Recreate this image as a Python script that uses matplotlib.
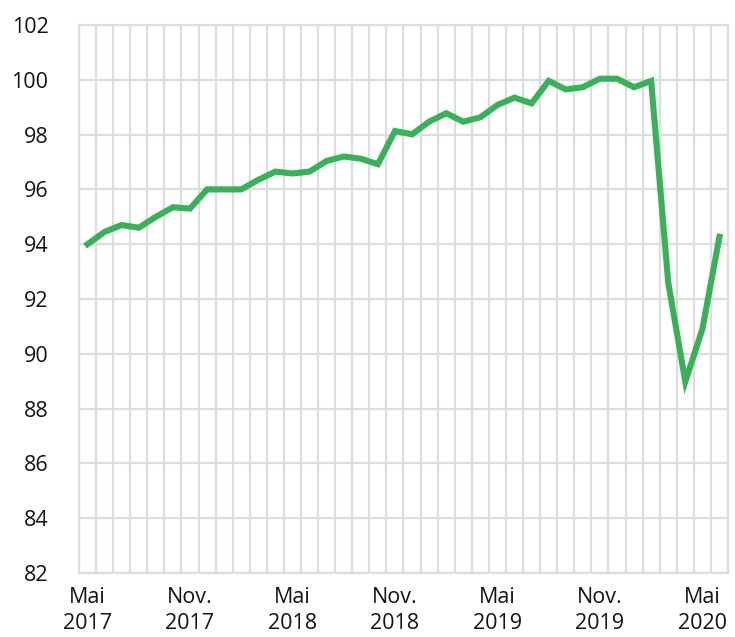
import matplotlib
matplotlib.use("Agg")
import matplotlib.pyplot as plt
import numpy as np

months = ["Mai 2017", "Jun 2017", "Jul 2017", "Aug 2017", "Sep 2017", "Okt 2017",
          "Nov 2017", "Dez 2017", "Jan 2018", "Feb 2018", "Mrz 2018", "Apr 2018",
          "Mai 2018", "Jun 2018", "Jul 2018", "Aug 2018", "Sep 2018", "Okt 2018",
          "Nov 2018", "Dez 2018", "Jan 2019", "Feb 2019", "Mrz 2019", "Apr 2019",
          "Mai 2019", "Jun 2019", "Jul 2019", "Aug 2019", "Sep 2019", "Okt 2019",
          "Nov 2019", "Dez 2019", "Jan 2020", "Feb 2020", "Mrz 2020", "Apr 2020",
          "Mai 2020", "Jun 2020"]
values = [94.0, 94.45, 94.7, 94.6, 95.0, 95.35,
          95.3, 96.0, 96.0, 96.0, 96.35, 96.65,
          96.58, 96.65, 97.04, 97.2, 97.12, 96.92,
          98.13, 98.01, 98.47, 98.78, 98.47, 98.63,
          99.08, 99.35, 99.14, 99.96, 99.65, 99.73,
          100.04, 100.04, 99.73, 99.96, 92.6, 88.98,
          90.9, 94.27]
tick_idx = [0, 6, 12, 18, 24, 30, 36]
tick_labels = ["Mai\n2017", "Nov.\n2017", "Mai\n2018", "Nov.\n2018",
               "Mai\n2019", "Nov.\n2019", "Mai\n2020"]
y_ticks = [82, 84, 86, 88, 90, 92, 94, 96, 98, 100, 102]

plt.rcParams['font.family'] = ['Open Sans', 'DejaVu Sans']

fig = plt.figure(figsize=(7.35, 6.37), dpi=100)
ax = fig.add_axes([79/735, 1 - 573/637, (728-79)/735, (573-25)/637])

grid_c = "#d8dfdc"
x = np.arange(len(values))
n = len(values)
for b in np.arange(n + 1) - 0.5:
    ax.axvline(b, color=grid_c, lw=1.6, zorder=0)
for yv in y_ticks:
    ax.axhline(yv, color=grid_c, lw=1.6, zorder=0)

ax.plot(x, values, color="#3bb05a", lw=4.4, solid_joinstyle="miter", zorder=3)

ax.set_xlim(-0.5, n - 0.5)
ax.set_ylim(82, 102)
ax.set_yticks(y_ticks)
ax.set_yticklabels([str(v) for v in y_ticks])
ax.set_xticks(tick_idx)
ax.set_xticklabels(tick_labels, linespacing=1.35)
ax.tick_params(axis="both", length=0, labelsize=15.5, colors="#141414")
ax.tick_params(axis="y", pad=22)
ax.tick_params(axis="x", pad=10)
for lab in ax.get_xticklabels() + ax.get_yticklabels():
    lab.set_fontweight("medium")
for s in ax.spines.values():
    s.set_color(grid_c)
    s.set_linewidth(1.6)

fig.savefig("out.png", dpi=100)
